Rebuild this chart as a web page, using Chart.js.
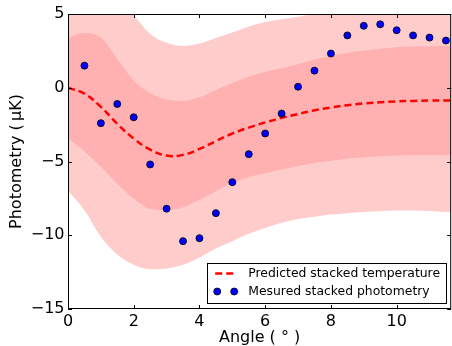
<!DOCTYPE html>
<html>
<head>
<meta charset="utf-8">
<title>Stacked photometry</title>
<script src="https://cdn.jsdelivr.net/npm/chart.js@4.4.0/dist/chart.umd.min.js"></script>
<style>
  html, body { margin: 0; padding: 0; background: #fff; overflow: hidden; }
  #wrap { width: 456px; height: 346px; }
</style>
</head>
<body>
<div id="wrap"><canvas id="photometryChart" width="456" height="346"></canvas></div>
<script>
// model curve + confidence bands, sampled on this angle grid
const angles      = [0, 0.5, 1, 1.5, 2, 2.5, 3, 3.5, 4, 4.5, 5, 5.5, 6, 6.5, 7, 7.5, 8, 8.5, 9, 9.5, 10, 10.5, 11, 11.7];
const predicted   = [0, -0.4, -1.3, -2.45, -3.45, -4.2, -4.6, -4.55, -4.15, -3.62, -3.1, -2.7, -2.35, -2.04, -1.78, -1.53, -1.34, -1.18, -1.06, -0.98, -0.92, -0.89, -0.87, -0.86];
const innerUpper  = [3.4, 3.72, 3.4, 1.95, 0.5, -0.35, -0.8, -0.88, -0.64, -0.15, 0.32, 0.75, 1.08, 1.32, 1.6, 1.9, 2.15, 2.37, 2.52, 2.65, 2.75, 2.8, 2.82, 2.83];
const innerLower  = [-3.43, -4.3, -5.35, -6.5, -7.5, -8.2, -8.3, -8.1, -7.6, -7.0, -6.45, -6.05, -5.8, -5.55, -5.3, -5.1, -4.95, -4.82, -4.72, -4.65, -4.6, -4.58, -4.57, -4.57];
const outerUpper  = [6.9, 7.0, 6.6, 5.8, 4.9, 3.65, 3.05, 2.83, 3.0, 3.38, 3.75, 4.15, 4.45, 4.65, 4.82, 5.0, 5.1, 5.3, 5.5, 5.7, 6.0, 6.2, 6.4, 6.6];
const outerLower  = [-6.96, -8.3, -10.1, -11.3, -12.0, -12.3, -12.25, -12.0, -11.5, -10.9, -10.4, -9.9, -9.5, -9.15, -8.9, -8.75, -8.6, -8.5, -8.42, -8.37, -8.33, -8.32, -8.35, -8.45];

// measured points
const measuredAngles = [0.5, 1, 1.5, 2, 2.5, 3, 3.5, 4, 4.5, 5, 5.5, 6, 6.5, 7, 7.5, 8, 8.5, 9, 9.5, 10, 10.5, 11, 11.5];
const measured       = [1.5, -2.4, -1.1, -2.0, -5.2, -8.2, -10.4, -10.2, -8.5, -6.4, -4.5, -3.1, -1.75, 0.07, 1.16, 2.32, 3.55, 4.2, 4.3, 3.9, 3.55, 3.4, 3.2];

const xTicks = [0, 2, 4, 6, 8, 10];
const yTicks = [-15, -10, -5, 0, 5];

const FONT = "'DejaVu Sans', sans-serif";

function pts(xs, ys) {
  return xs.map((x, i) => ({ x: x, y: ys[i] }));
}

function minusSign(v) {
  return String(v).replace('-', '\u2212');
}

// matplotlib style box with inward ticks on all sides
const frameTicks = {
  id: 'frameTicks',
  afterDatasetsDraw(chart) {
    const { ctx, chartArea: a, scales } = chart;
    const tl = 4;
    ctx.save();
    ctx.strokeStyle = '#000';
    ctx.lineWidth = 1;
    ctx.strokeRect(a.left + 0.5, a.top + 0.5, a.right - a.left - 1, a.bottom - a.top - 1);
    ctx.beginPath();
    xTicks.forEach(v => {
      const px = Math.round(scales.x.getPixelForValue(v)) + 0.5;
      ctx.moveTo(px, a.top); ctx.lineTo(px, a.top + tl);
      ctx.moveTo(px, a.bottom); ctx.lineTo(px, a.bottom - tl);
    });
    yTicks.forEach(v => {
      const py = Math.round(scales.y.getPixelForValue(v)) + 0.5;
      ctx.moveTo(a.left, py); ctx.lineTo(a.left + tl, py);
      ctx.moveTo(a.right, py); ctx.lineTo(a.right - tl, py);
    });
    ctx.stroke();
    ctx.restore();
  }
};

// legend box in the lower right corner of the axes
const legendBox = {
  id: 'legendBox',
  afterDraw(chart) {
    const { ctx, chartArea: a } = chart;
    const ds = chart.data.datasets;
    const right = a.right - 5, bottom = a.bottom - 6;
    const w = 239, h = 40;
    const left = right - w, top = bottom - h;
    ctx.save();
    ctx.fillStyle = '#fff';
    ctx.fillRect(left, top, w, h);
    ctx.strokeStyle = '#000';
    ctx.lineWidth = 1;
    ctx.strokeRect(Math.round(left) + 0.5, Math.round(top) + 0.5, w, h);

    // line entry
    const y1 = top + 10.5;
    ctx.strokeStyle = ds[0].borderColor;
    ctx.lineWidth = ds[0].borderWidth;
    ctx.setLineDash(ds[0].borderDash);
    ctx.beginPath();
    ctx.moveTo(left + 8, y1);
    ctx.lineTo(left + 27, y1);
    ctx.stroke();
    ctx.setLineDash([]);

    // marker entry (two markers)
    const y2 = top + 28.5;
    ctx.fillStyle = ds[1].backgroundColor;
    ctx.strokeStyle = ds[1].borderColor;
    ctx.lineWidth = ds[1].borderWidth;
    [left + 10, left + 27].forEach(cx => {
      ctx.beginPath();
      ctx.arc(cx, y2, ds[1].pointRadius, 0, Math.PI * 2);
      ctx.fill();
      ctx.stroke();
    });

    ctx.fillStyle = '#000';
    ctx.font = '12.4px ' + FONT;
    ctx.textBaseline = 'middle';
    ctx.fillText(ds[0].label, left + 41, y1);
    ctx.fillText(ds[1].label, left + 41, y2);
    ctx.restore();
  }
};

const bandStyle = {
  showLine: true,
  pointRadius: 0,
  borderWidth: 0,
  cubicInterpolationMode: 'monotone',
  clip: 0
};

const ctx = document.getElementById('photometryChart').getContext('2d');

new Chart(ctx, {
  type: 'scatter',
  data: {
    datasets: [
      {
        label: 'Predicted stacked temperature',
        data: pts(angles, predicted),
        showLine: true,
        borderColor: '#ff0000',
        borderWidth: 2.5,
        borderDash: [7, 4],
        pointRadius: 0,
        tension: 0.4,
        fill: false,
        order: 1
      },
      {
        label: 'Mesured stacked photometry',
        data: pts(measuredAngles, measured),
        showLine: false,
        backgroundColor: '#0000ff',
        borderColor: '#000000',
        borderWidth: 0.8,
        pointRadius: 3.5,
        order: 0
      },
      Object.assign({ label: 'inner upper', data: pts(angles, innerUpper), fill: '+1', backgroundColor: 'rgb(255,176,176)', order: 3 }, bandStyle),
      Object.assign({ label: 'inner lower', data: pts(angles, innerLower), fill: false, order: 3 }, bandStyle),
      Object.assign({ label: 'outer upper', data: pts(angles, outerUpper), fill: '+1', backgroundColor: 'rgb(255,204,204)', order: 5 }, bandStyle),
      Object.assign({ label: 'outer lower', data: pts(angles, outerLower), fill: false, order: 5 }, bandStyle)
    ]
  },
  options: {
    responsive: false,
    animation: false,
    devicePixelRatio: 1,
    layout: { padding: { top: 14, right: 2, left: 0, bottom: 0 } },
    plugins: {
      legend: { display: false },
      tooltip: { enabled: false }
    },
    scales: {
      x: {
        type: 'linear',
        min: 0,
        max: 11.66,
        afterFit(scale) { scale.height = 37; },
        grid: { display: false, drawTicks: false },
        border: { display: false },
        ticks: {
          stepSize: 2,
          includeBounds: false,
          maxRotation: 0,
          padding: 3.5,
          color: '#000',
          font: { family: FONT, size: 16 },
          callback: minusSign
        },
        title: {
          display: true,
          text: 'Angle ( \u00b0 )',
          color: '#000',
          font: { family: FONT, size: 16, lineHeight: 1 },
          padding: 0
        }
      },
      y: {
        min: -15,
        max: 5,
        afterFit(scale) { scale.width = 68; },
        grid: { display: false, drawTicks: false },
        border: { display: false },
        ticks: {
          stepSize: 5,
          padding: 3.5,
          color: '#000',
          font: { family: FONT, size: 16 },
          callback: minusSign
        },
        title: {
          display: true,
          text: 'Photometry (\u2009\u03bcK)',
          color: '#000',
          font: { family: FONT, size: 16, lineHeight: 1.2 },
          padding: { top: 7, bottom: 0 }
        }
      }
    }
  },
  plugins: [frameTicks, legendBox]
});
</script>
</body>
</html>
